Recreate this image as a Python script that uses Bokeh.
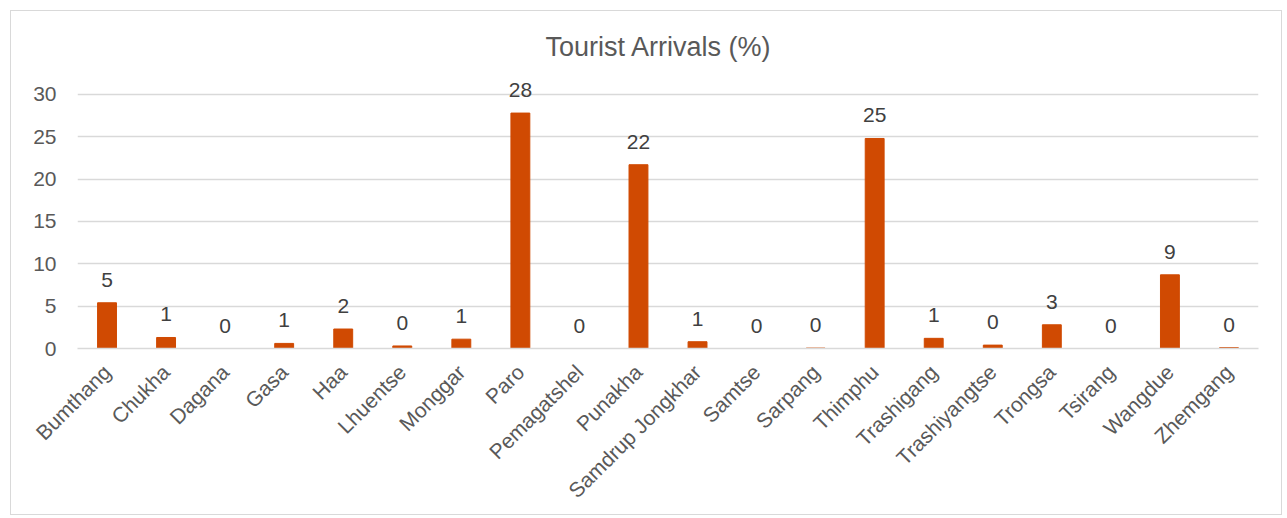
import math
from bokeh.plotting import figure
from bokeh.models import ColumnDataSource, FixedTicker, Range1d
from bokeh.embed import file_html
from bokeh.resources import INLINE
from bokeh.core.properties import value

categories = ["Bumthang", "Chukha", "Dagana", "Gasa", "Haa", "Lhuentse", "Monggar",
              "Paro", "Pemagatshel", "Punakha", "Samdrup Jongkhar", "Samtse", "Sarpang",
              "Thimphu", "Trashigang", "Trashiyangtse", "Trongsa", "Tsirang", "Wangdue",
              "Zhemgang"]
arrivals = [5.4, 1.3, 0.0, 0.6, 2.3, 0.3, 1.1, 27.8, 0.0, 21.7, 0.8, 0.0, 0.05,
            24.8, 1.2, 0.4, 2.8, 0.0, 8.7, 0.1]
labels = [5, 1, 0, 1, 2, 0, 1, 28, 0, 22, 1, 0, 0, 25, 1, 0, 3, 0, 9, 0]
y_ticks = [0, 5, 10, 15, 20, 25, 30]

FONT = "Liberation Sans"
TXT = "#595959"
BAR = "#D04A02"

src = ColumnDataSource(dict(cat=categories, val=arrivals,
                            lab=[str(v) for v in labels]))

p = figure(x_range=categories, y_range=Range1d(0, 32), width=1272, height=505,
           output_backend="svg", toolbar_location=None,
           min_border_left=66, min_border_right=25, min_border_top=66,
           min_border_bottom=168)
p.styles = {"border": "1px solid #d9d9d9", "margin": "10px 0 0 10px"}

p.vbar(x="cat", top="val", width=0.32, source=src, color=BAR, line_color=BAR)
p.text(x="cat", y="val", text="lab", source=src, y_offset=-23,
       text_align="center", text_baseline="alphabetic", text_color="#404040",
       text_font=value(FONT), text_font_size="21px")

p.title.text = "Tourist Arrivals (%)"
p.title.align = "left"
p.title.text_font = FONT
p.title.text_font_size = "27px"
p.title.text_font_style = "normal"
p.title.text_color = TXT
p.title.offset = 468
p.title.standoff = 32

p.outline_line_color = None
p.xgrid.grid_line_color = None
p.ygrid.grid_line_color = "#D9D9D9"
p.ygrid.grid_line_width = 1.5
p.yaxis.ticker = FixedTicker(ticks=y_ticks)
p.yaxis.axis_line_color = None
p.yaxis.major_tick_line_color = None
p.yaxis.minor_tick_line_color = None
p.yaxis.major_label_text_font = FONT
p.yaxis.major_label_text_font_size = "21px"
p.yaxis.major_label_text_color = TXT
p.yaxis.major_label_standoff = 15

p.xaxis.axis_line_color = "#D9D9D9"
p.xaxis.axis_line_width = 1.5
p.xaxis.major_tick_line_color = None
p.xaxis.minor_tick_line_color = None
p.xaxis.major_label_orientation = math.pi / 4
p.xaxis.major_label_text_font = FONT
p.xaxis.major_label_text_font_size = "21px"
p.xaxis.major_label_text_color = TXT
p.xaxis.major_label_standoff = 14
p.x_range.range_padding = 0

open("out.html", "w").write(file_html(p, INLINE))
